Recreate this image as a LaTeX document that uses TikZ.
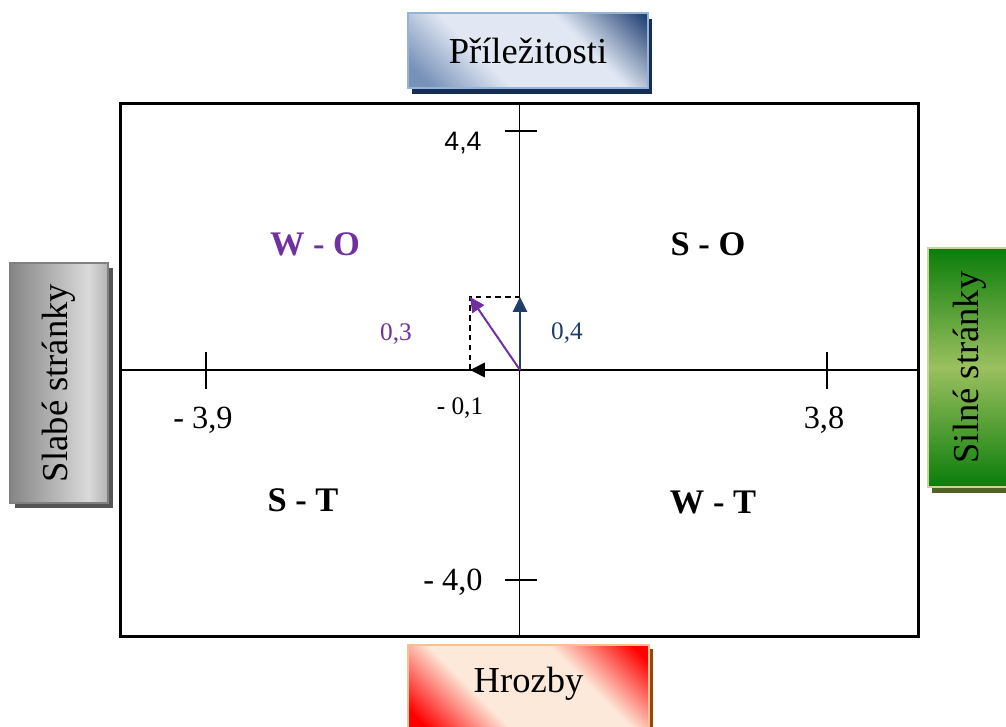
\documentclass[tikz,border=0pt]{standalone}
\usepackage{fontspec}
\setmainfont{Liberation Serif}
\newfontfamily\arialfont{Liberation Sans}
\usepackage{graphicx}
\usetikzlibrary{positioning,arrows.meta,shadows}

\definecolor{swotpurple}{RGB}{112,48,160}
\definecolor{swotnavy}{RGB}{31,62,105}
\definecolor{oppdark}{RGB}{38,68,118}
\definecolor{oppmid}{RGB}{120,145,185}
\definecolor{opplight}{RGB}{225,232,243}
\definecolor{oppborder}{RGB}{149,179,215}
\definecolor{oppshadow}{RGB}{23,45,85}
\definecolor{weakdark}{RGB}{112,112,112}
\definecolor{weakmid}{RGB}{140,140,140}
\definecolor{weaklight}{RGB}{218,218,218}
\definecolor{weakborder}{RGB}{128,128,128}
\definecolor{weakshadow}{RGB}{85,85,85}
\definecolor{strongdark}{RGB}{10,125,10}
\definecolor{stronglight}{RGB}{155,192,95}
\definecolor{strongborder}{RGB}{195,214,155}
\definecolor{strongshadow}{RGB}{79,98,40}
\definecolor{threatdark}{RGB}{255,0,0}
\definecolor{threatlight}{RGB}{253,233,217}
\definecolor{threatborder}{RGB}{250,192,144}
\definecolor{threatshadow}{RGB}{152,72,6}

\pgfdeclareverticalshading{oppshade}{100bp}{color(0bp)=(oppmid); color(20bp)=(oppmid); color(38bp)=(opplight); color(64bp)=(opplight); color(84bp)=(oppdark); color(100bp)=(oppdark)}
\pgfdeclareverticalshading{threatshade}{100bp}{color(0bp)=(threatdark); color(20bp)=(threatdark); color(38bp)=(threatlight); color(64bp)=(threatlight); color(82bp)=(threatdark); color(100bp)=(threatdark)}
\pgfdeclarehorizontalshading{weakshade}{100bp}{color(0bp)=(weakdark); color(15bp)=(weakdark); color(65bp)=(weaklight); color(85bp)=(weakmid); color(100bp)=(weakmid)}

\begin{document}
\begin{tikzpicture}[
  x=0.025cm,y=-0.025cm,
  frame/.style={draw=black,line width=2.1pt,minimum width=19.925cm,minimum height=13.3cm,inner sep=0pt},
  axis/.style={line width=1pt},
  tick/.style={line width=1pt},
  head/.style={font=\fontsize{26}{30}\selectfont,inner sep=0pt,line width=1.2pt},
  num/.style={font=\fontsize{23}{26}\selectfont,inner sep=0pt},
  small/.style={font=\fontsize{18}{21}\selectfont,inner sep=0pt},
  quad/.style={font=\fontsize{24.5}{28}\selectfont\bfseries,inner sep=0pt},
  vec/.style={-{Triangle[length=10.5pt,width=10pt]},line width=1.4pt},
]
  \useasboundingbox (0,0) rectangle (1006,727);

  \node[frame] (frame) at (519.5,370) {};
  \draw[axis] (frame.north) -- (frame.south);
  \draw[axis] (frame.west) -- (frame.east);

  \draw[tick] (505,131) -- (537,131);
  \draw[tick] (505,580) -- (537,580);
  \draw[tick] (206,352) -- (206,389);
  \draw[tick] (827,352) -- (827,389);

  \node[head,draw=oppborder,shade,shading=oppshade,shading angle=-45,
        drop shadow={shadow xshift=0.1cm,shadow yshift=-0.15cm,fill=oppshadow,opacity=1},
        minimum width=6cm,minimum height=1.875cm] (opp) at (528,50.5) {Příležitosti};
  \node[head,draw=weakborder,shade,shading=weakshade,
        drop shadow={shadow xshift=0.12cm,shadow yshift=-0.12cm,fill=weakshadow,opacity=1},
        minimum width=2.45cm,minimum height=6cm] (weak) at (59,383) {\rotatebox{90}{Slabé stránky}};
  \node[head,draw=strongborder,top color=strongdark,bottom color=strongdark,middle color=stronglight,
        drop shadow={shadow xshift=0.1cm,shadow yshift=-0.15cm,fill=strongshadow,opacity=1},
        minimum width=2.1cm,minimum height=5.975cm] (strong) at (970,367.5) {\rotatebox{90}{Silné stránky}};
  \node[head,draw=threatborder,shade,shading=threatshade,shading angle=-45,
        drop shadow={shadow xshift=0.1cm,shadow yshift=-0.1cm,fill=threatshadow,opacity=1},
        minimum width=6.025cm,minimum height=2.25cm,text height=0.7cm,text depth=0.6cm] (threat) at (528.5,690) {Hrozby};

  \node[num,font=\fontsize{19}{22}\selectfont\arialfont] (ymax) at (463,143) {4,4};
  \node[num] (ymin) at (453,582) {- 4,0};
  \node[num] (xmin) at (203,420) {- 3,9};
  \node[num] (xmax) at (824,420) {3,8};

  \node[quad,text=swotpurple] (wo) at (315,244) {W - O};
  \node[quad] (so) at (708,244) {S - O};
  \node[quad] (st) at (303,500) {S - T};
  \node[quad] (wt) at (713,502) {W - T};

  \coordinate (o) at (520,370);
  \coordinate (up) at (520,297);
  \coordinate (lft) at (470,370);
  \coordinate (tip) at (470,297);
  \draw[dashed,line width=1pt,dash pattern=on 4pt off 3pt] (lft) -- (tip) -- (up);
  \draw[vec,line width=2pt] (o) -- (lft);
  \draw[vec,swotnavy] (o) -- (up);
  \draw[vec,swotpurple] (o) -- (tip);

  \node[small,text=swotpurple] (pv) at (396,334) {0,3};
  \node[small,text=swotnavy] (yv) at (567,333) {0,4};
  \node[small] (xv) at (460,408) {- 0,1};
\end{tikzpicture}
\end{document}
